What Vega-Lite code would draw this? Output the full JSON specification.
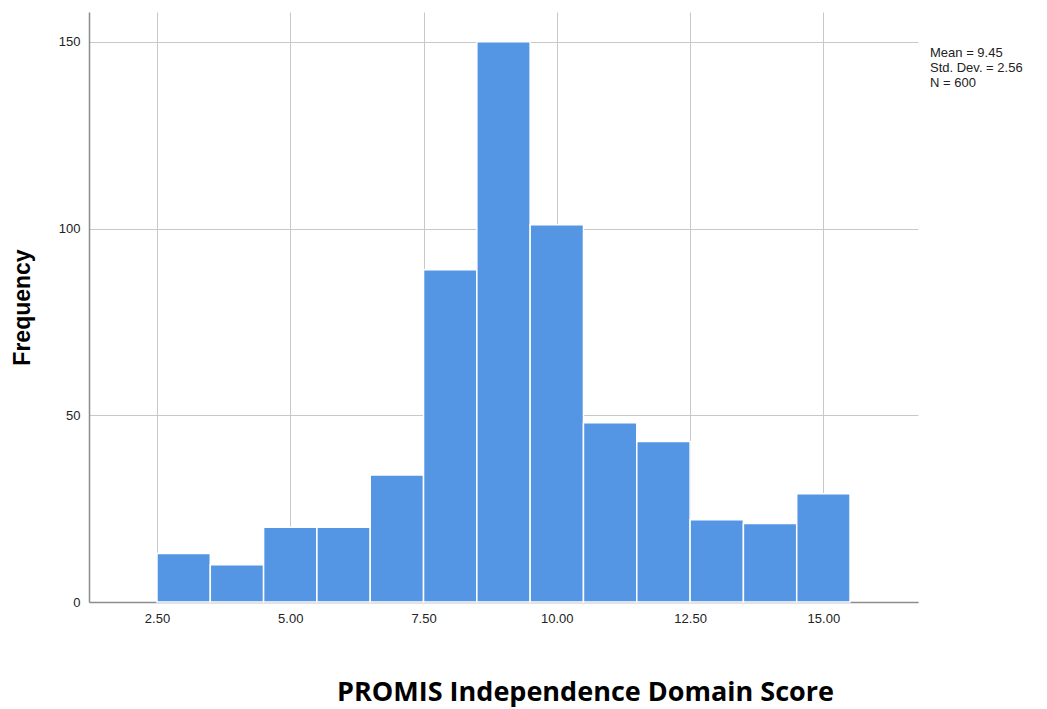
{
  "$schema": "https://vega.github.io/schema/vega-lite/v6.json",
  "width": 829,
  "height": 590,
  "autosize": "none",
  "padding": {"left": 89, "top": 12, "right": 129, "bottom": 107},
  "background": "white",
  "config": {
    "view": {"stroke": null},
    "font": "Liberation Sans"
  },
  "layer": [
    {
      "data": {
        "values": [
          {"bin_start": 2.5, "bin_end": 3.5, "count": 13},
          {"bin_start": 3.5, "bin_end": 4.5, "count": 10},
          {"bin_start": 4.5, "bin_end": 5.5, "count": 20},
          {"bin_start": 5.5, "bin_end": 6.5, "count": 20},
          {"bin_start": 6.5, "bin_end": 7.5, "count": 34},
          {"bin_start": 7.5, "bin_end": 8.5, "count": 89},
          {"bin_start": 8.5, "bin_end": 9.5, "count": 150},
          {"bin_start": 9.5, "bin_end": 10.5, "count": 101},
          {"bin_start": 10.5, "bin_end": 11.5, "count": 48},
          {"bin_start": 11.5, "bin_end": 12.5, "count": 43},
          {"bin_start": 12.5, "bin_end": 13.5, "count": 22},
          {"bin_start": 13.5, "bin_end": 14.5, "count": 21},
          {"bin_start": 14.5, "bin_end": 15.5, "count": 29}
        ]
      },
      "mark": {"type": "bar", "color": "#5596e4", "stroke": "white", "strokeWidth": 1.5},
      "encoding": {
        "x": {
          "field": "bin_start",
          "type": "quantitative",
          "scale": {"domain": [1.225, 16.775], "nice": false, "zero": false},
          "axis": {
            "values": [2.5, 5, 7.5, 10, 12.5, 15],
            "format": ".2f",
            "ticks": false,
            "grid": true,
            "gridColor": "#c8c8c8",
            "gridWidth": 1,
            "domainColor": "#8c8c8c",
            "domainWidth": 1.5,
            "labelFont": "Liberation Sans",
            "labelFontSize": 13,
            "labelColor": "#222222",
            "labelPadding": 10,
            "title": "PROMIS Independence Domain Score",
            "titleFont": "Open Sans",
            "titleFontWeight": "bold",
            "titleFontSize": 27,
            "titleColor": "#000000",
            "titleX": 496,
            "titleY": 90,
            "titleAlign": "center",
            "titleBaseline": "middle"
          }
        },
        "x2": {"field": "bin_end"},
        "y": {
          "field": "count",
          "type": "quantitative",
          "scale": {"domain": [0, 158], "nice": false},
          "axis": {
            "values": [0, 50, 100, 150],
            "ticks": false,
            "grid": true,
            "gridColor": "#c8c8c8",
            "gridWidth": 1,
            "domainColor": "#8c8c8c",
            "domainWidth": 1.5,
            "labelFont": "Liberation Sans",
            "labelFontSize": 13,
            "labelColor": "#222222",
            "labelPadding": 9,
            "title": "Frequency",
            "titleFont": "Liberation Sans",
            "titleFontWeight": "bold",
            "titleFontSize": 23,
            "titleColor": "#000000",
            "titleX": -67,
            "titleY": 295,
            "titleAngle": -90,
            "titleAlign": "center",
            "titleBaseline": "middle"
          }
        },
        "y2": {"datum": 0}
      }
    },
    {
      "data": {"values": [{"n": 600}]},
      "mark": {
        "type": "text",
        "text": ["Mean = 9.45", "Std. Dev. = 2.56", "N = 600"],
        "align": "left",
        "baseline": "top",
        "font": "Liberation Sans",
        "fontSize": 13,
        "lineHeight": 15,
        "color": "#222222"
      },
      "encoding": {
        "x": {"datum": 17.0},
        "y": {"datum": 148.7}
      }
    }
  ]
}
